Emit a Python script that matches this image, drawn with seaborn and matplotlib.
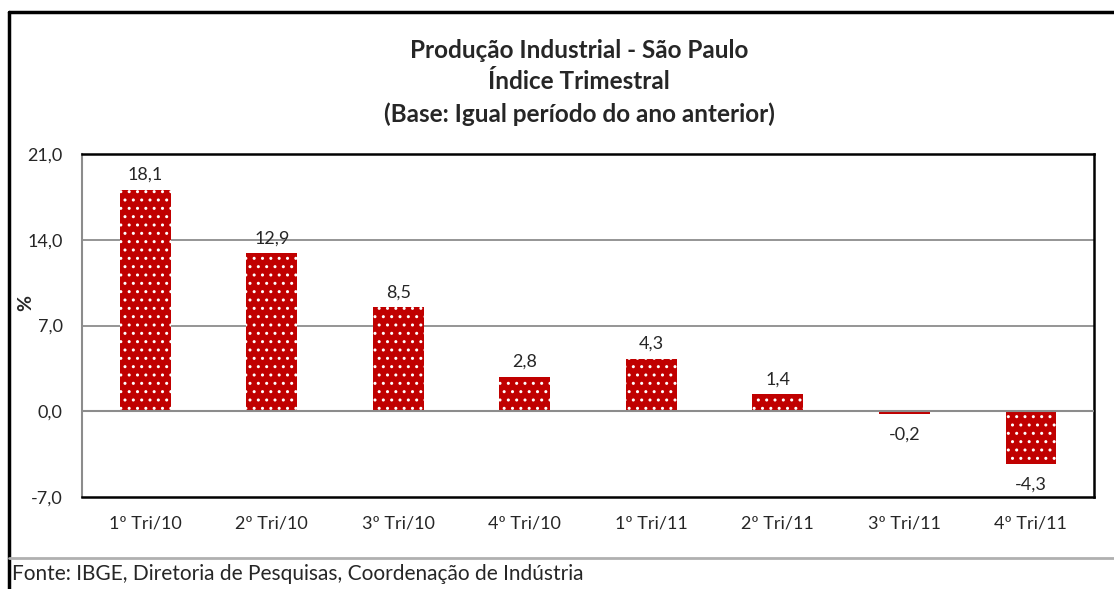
import matplotlib
matplotlib.use("Agg")
import matplotlib.pyplot as plt
import seaborn as sns
import pandas as pd
from matplotlib.lines import Line2D

periods = ['1º Tri/10', '2º Tri/10', '3º Tri/10', '4º Tri/10',
           '1º Tri/11', '2º Tri/11', '3º Tri/11', '4º Tri/11']
values = [18.1, 12.9, 8.5, 2.8, 4.3, 1.4, -0.2, -4.3]
yticks = [-7.0, 0.0, 7.0, 14.0, 21.0]

df = pd.DataFrame({'periodo': periods, 'valor': values})

sns.set_style("white")
plt.rcParams['font.family'] = ['Lato', 'DejaVu Sans']
plt.rcParams['hatch.linewidth'] = 1.0

fig = plt.figure(figsize=(11.14, 5.89), dpi=100)
ax = fig.add_axes([0.0736, 0.1562, 0.9085, 0.5823])

sns.barplot(data=df, x='periodo', y='valor', color='#C00000', width=0.4,
            saturation=1, ax=ax, zorder=3)
for p in ax.patches:
    p.set_hatch('..')
    p.set_edgecolor('white')
    p.set_linewidth(0)

ax.set_ylim(-7, 21)
ax.set_yticks(yticks)
ax.set_yticklabels([f'{t:.1f}'.replace('.', ',') for t in yticks], fontsize=13)
ax.tick_params(axis='x', labelsize=13, length=0, pad=13)
ax.tick_params(axis='y', length=0, pad=14)
ax.set_xlabel('')
ax.set_ylabel('%', fontsize=14, fontweight='bold')
ax.yaxis.set_label_coords(-0.047, 0.565)

for t in [7, 14]:
    ax.axhline(t, color='#8c8c8c', lw=1.3, zorder=1)
ax.axhline(0, color='#8c8c8c', lw=1.5, zorder=4)

for s in ['top', 'right', 'bottom']:
    ax.spines[s].set_color('black')
    ax.spines[s].set_linewidth(1.8)
ax.spines['left'].set_color('#8c8c8c')
ax.spines['left'].set_linewidth(1.5)

for i, v in enumerate(values):
    lab = f'{v:.1f}'.replace('.', ',')
    if v >= 0:
        ax.annotate(lab, (i, v), xytext=(0, 5), textcoords='offset points',
                    ha='center', va='bottom', fontsize=13)
    else:
        ax.annotate(lab, (i, v), xytext=(0, -9), textcoords='offset points',
                    ha='center', va='top', fontsize=13)

fig.text(0.52, 0.915, 'Produção Industrial - São Paulo', ha='center', va='center',
         fontsize=17.5, fontweight='bold')
fig.text(0.52, 0.862, 'Índice Trimestral', ha='center', va='center',
         fontsize=17.5, fontweight='bold')
fig.text(0.52, 0.806, '(Base: Igual período do ano anterior)', ha='center', va='center',
         fontsize=17.5, fontweight='bold')

fig.text(0.011, 0.026, 'Fonte: IBGE, Diretoria de Pesquisas, Coordenação de Indústria',
         ha='left', va='center', fontsize=15)

# moldura externa do grafico
fig.add_artist(Line2D([0.0081, 1.0], [0.9796, 0.9796], color='black', lw=2.5))
fig.add_artist(Line2D([0.0081, 0.0081], [0.9796, 0.0], color='black', lw=2.5))
fig.add_artist(Line2D([0.0081, 1.0], [0.0526, 0.0526], color='#b0b0b0', lw=2))

fig.savefig('out.png', dpi=100)
